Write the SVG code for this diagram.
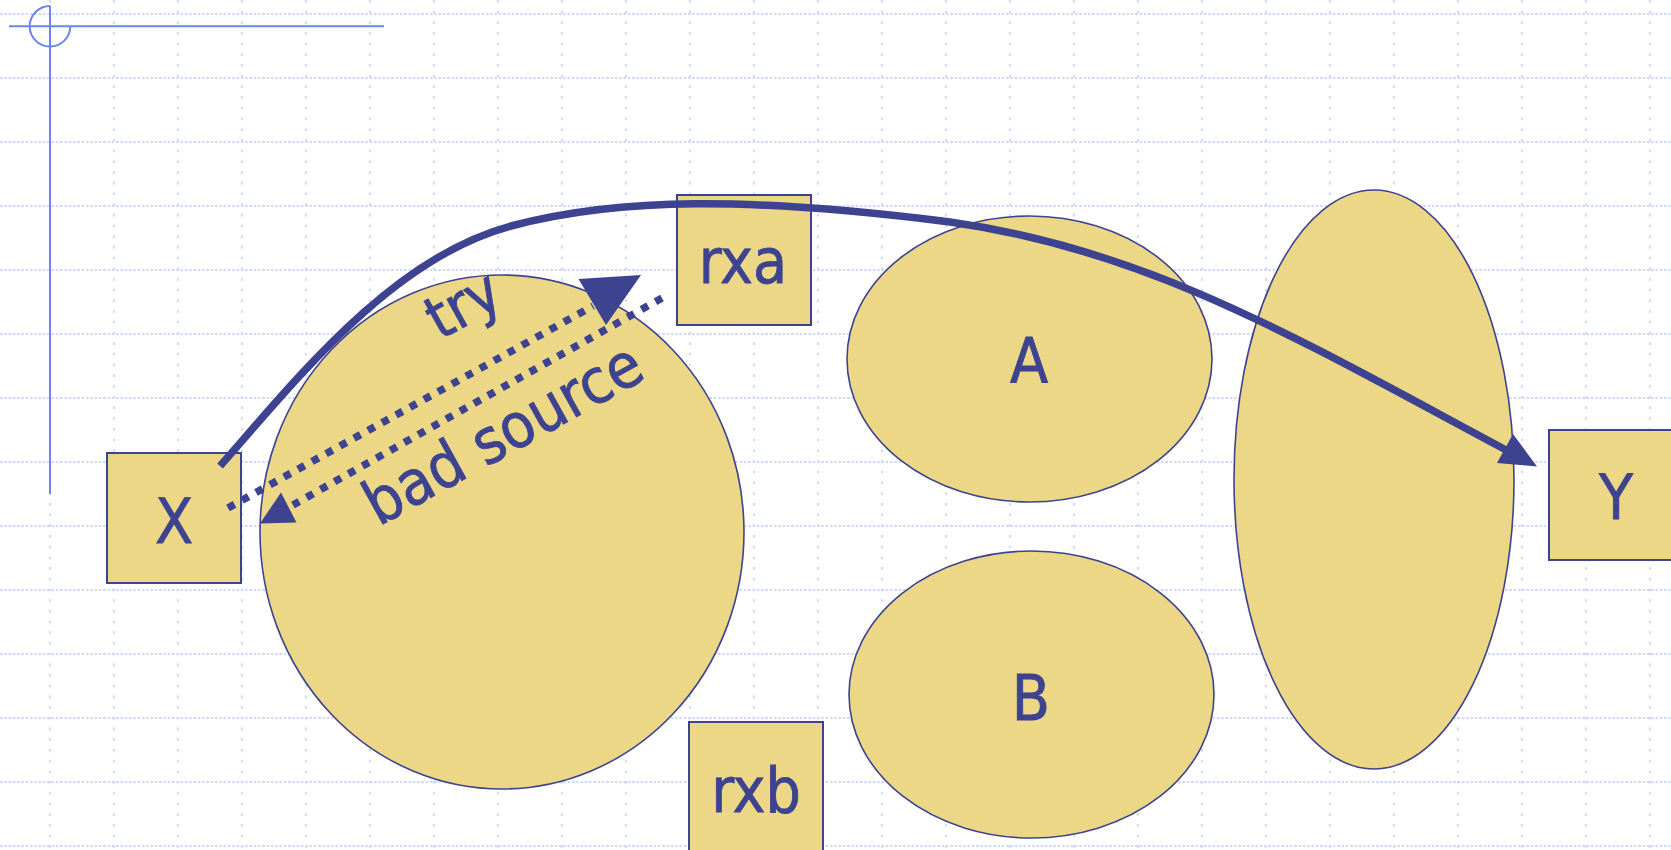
<svg xmlns="http://www.w3.org/2000/svg" width="1671" height="850" viewBox="0 0 1671 850">
  <style>
    .gridh { fill: none; stroke: #cdd9f8; stroke-width: 2; stroke-dasharray: 2.5 1.8; }
    .gridv { fill: none; stroke: #cdd9f8; stroke-width: 2; stroke-dasharray: 2.5 8.2; }
    .origin { fill: none; stroke: #6b85ec; stroke-width: 2; }
    .shape { fill: #ebd785; stroke: #3d4390; stroke-width: 1.6; }
    .box { fill: #ebd785; stroke: #3d4390; stroke-width: 2; }
    .label { fill: #3d4390; stroke: #3d4390; stroke-width: 0.8; font-family: "DejaVu Sans Condensed", "DejaVu Sans", sans-serif; font-stretch: condensed; font-size: 62px; text-anchor: middle; }
    .edge { fill: none; stroke: #3d4390; stroke-width: 7.5; }
    .dotted { fill: none; stroke: #3d4390; stroke-width: 7.5; stroke-dasharray: 7.5 8.5; }
    .head { fill: #3d4390; stroke: none; }
  </style>

  <rect width="1671" height="850" fill="#ffffff"/>

  <!-- background grid -->
  <g id="grid">
    <path class="gridh" d="M0,14H1671M0,78H1671M0,142H1671M0,206H1671M0,270H1671M0,334H1671M0,398H1671M0,462H1671M0,526H1671M0,590H1671M0,654H1671M0,718H1671M0,782H1671M0,846H1671"/>
    <path class="gridv" d="M50,0V850M114,0V850M178,0V850M242,0V850M306,0V850M370,0V850M434,0V850M498,0V850M562,0V850M626,0V850M690,0V850M754,0V850M818,0V850M882,0V850M946,0V850M1010,0V850M1074,0V850M1138,0V850M1202,0V850M1266,0V850M1330,0V850M1394,0V850M1458,0V850M1522,0V850M1586,0V850M1650,0V850"/>
  </g>

  <!-- origin marker -->
  <g id="origin">
    <path class="origin" d="M9,26.3H384M50,6V494"/>
    <path class="origin" d="M50,6A20.3,20.3 0 1,0 70.3,26.3"/>
  </g>

  <!-- regions -->
  <g id="region-big">
    <ellipse class="shape" cx="502" cy="532" rx="242" ry="257"/>
  </g>
  <g id="region-A">
    <ellipse class="shape" cx="1029.5" cy="359" rx="182.5" ry="143"/>
    <text class="label" x="1029" y="383">A</text>
  </g>
  <g id="region-B">
    <ellipse class="shape" cx="1031.5" cy="694.5" rx="182.5" ry="143.5"/>
    <text class="label" x="1031" y="720">B</text>
  </g>
  <g id="region-tall">
    <ellipse class="shape" cx="1374" cy="479.5" rx="140" ry="289.5"/>
  </g>

  <!-- boxes -->
  <g id="node-X">
    <rect class="box" x="107" y="453" width="134" height="130"/>
    <text class="label" x="174" y="543">X</text>
  </g>
  <g id="node-rxa">
    <rect class="box" x="677" y="195" width="134" height="130"/>
    <text class="label" x="743" y="283">rxa</text>
  </g>
  <g id="node-rxb">
    <rect class="box" x="689" y="722" width="134" height="140"/>
    <text class="label" x="756" y="812">rxb</text>
  </g>
  <g id="node-Y">
    <rect class="box" x="1549" y="430" width="134" height="130"/>
    <text class="label" x="1616" y="519">Y</text>
  </g>

  <!-- connectors -->
  <g id="connectors">
    <path class="edge" d="M220,466C292,385 390,258 511,226C620,197 750,197 950,222C1150,250 1300,340 1506,450"/>
    <polygon class="head" points="1537,466.5 1497,463 1513,434"/>

    <path class="dotted" d="M228,508L593,306"/>
    <polygon class="head" points="641,275 578.5,279 606,325"/>
    <text class="label" style="font-size:60px" transform="translate(466,310) rotate(-29)" y="14">try</text>

    <path class="dotted" d="M662,298L293,505"/>
    <polygon class="head" points="260,523.5 281,492.5 296.5,522.5"/>
    <text class="label" transform="translate(502,432) rotate(-29)" y="23">bad source</text>
  </g>
</svg>
